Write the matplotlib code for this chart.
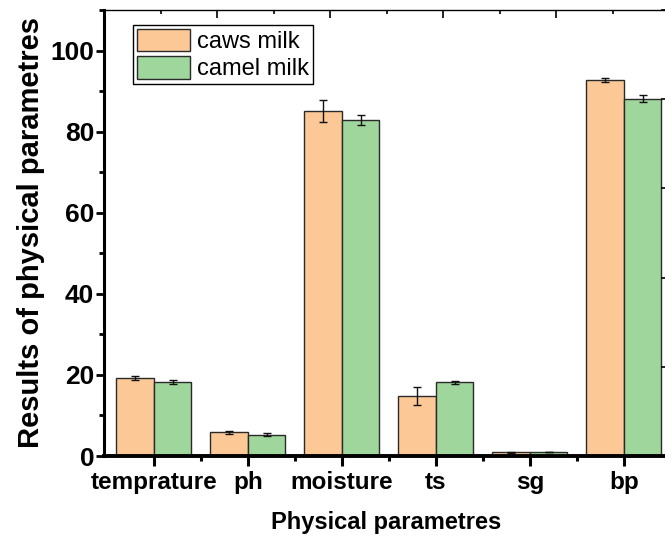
import numpy as np
import matplotlib
matplotlib.use("Agg")
import matplotlib.pyplot as plt
from matplotlib.ticker import MultipleLocator

categories = ["temprature", "ph", "moisture", "ts", "sg", "bp"]
caws_milk = [19.3, 5.8, 85.2, 14.8, 0.9, 92.8]
caws_err = [0.5, 0.35, 2.7, 2.1, 0.1, 0.5]
camel_milk = [18.3, 5.3, 82.9, 18.2, 1.0, 88.1]
camel_err = [0.5, 0.25, 1.2, 0.4, 0.05, 0.9]

plt.rcParams['font.family'] = ['Liberation Sans', 'DejaVu Sans']

fig = plt.figure(figsize=(6.65, 5.37), dpi=100)
ax = fig.add_axes([104/665, 81/537, 565/665, 446/537])

x = np.arange(1, len(categories) + 1)
w = 0.4
c1 = '#FCC996'
c2 = '#9FD69C'
ax.bar(x - w/2, caws_milk, w, color=c1, edgecolor='#2a2a2a', linewidth=1.0,
       label='caws milk', zorder=2)
ax.bar(x + w/2, camel_milk, w, color=c2, edgecolor='#2a2a2a', linewidth=1.0,
       label='camel milk', zorder=2)
ax.errorbar(x - w/2, caws_milk, yerr=caws_err, fmt='none', ecolor='#111111',
            elinewidth=1.0, capsize=3.2, capthick=1.0, zorder=3)
ax.errorbar(x + w/2, camel_milk, yerr=camel_err, fmt='none', ecolor='#111111',
            elinewidth=1.0, capsize=3.2, capthick=1.0, zorder=3)

ax.set_xlim(0.47, 6.48)
ax.set_ylim(0, 110)
ax.set_xticks(x)
ax.set_xticklabels(categories, fontsize=17.5, fontweight='bold')
ax.set_xticks(x[:-1] + 0.5, minor=True)
ax.yaxis.set_major_locator(MultipleLocator(20))
ax.yaxis.set_minor_locator(MultipleLocator(10))
for lab in ax.get_yticklabels():
    lab.set_fontweight('bold')
    lab.set_fontsize(19)
ax.tick_params(axis='y', which='major', direction='out', length=6, width=2, pad=1)
ax.tick_params(axis='y', which='minor', direction='out', length=3.5, width=2)
ax.tick_params(axis='x', which='major', direction='out', length=7, width=2.2, pad=4)
ax.tick_params(axis='x', which='minor', direction='out', length=3.5, width=2.2)

ax.spines['left'].set_linewidth(2.2)
ax.spines['bottom'].set_linewidth(2.8)
ax.spines['top'].set_linewidth(1.0)
ax.spines['right'].set_linewidth(1.0)

ax.set_xlabel('Physical parametres', fontsize=17, fontweight='bold', labelpad=12)
ax.set_ylabel('Results of physical parametres', fontsize=21, fontweight='bold', labelpad=4)

# top axis (inward ticks)
axt = ax.twiny()
axt.set_xlim(0, 5)
axt.xaxis.set_major_locator(MultipleLocator(1))
axt.xaxis.set_minor_locator(MultipleLocator(0.5))
axt.tick_params(axis='x', which='major', direction='in', length=5.5, width=1.2, labeltop=False)
axt.tick_params(axis='x', which='minor', direction='in', length=3, width=1.2)
for s in axt.spines.values():
    s.set_visible(False)

# right axis (inward ticks)
axr = ax.twinx()
axr.set_ylim(0, 5)
axr.yaxis.set_major_locator(MultipleLocator(1))
axr.tick_params(axis='y', which='major', direction='in', length=5.5, width=1.2, labelright=False)
for s in axr.spines.values():
    s.set_visible(False)

leg = ax.legend(loc='upper left', bbox_to_anchor=(0.052, 0.966), fontsize=17,
                frameon=True, fancybox=False, edgecolor='black', framealpha=1,
                handlelength=2.25, handleheight=1.1, labelspacing=0.12,
                handletextpad=0.3, borderpad=0.15, borderaxespad=0)
leg.get_frame().set_linewidth(1.0)

fig.savefig('out.png', dpi=100)
